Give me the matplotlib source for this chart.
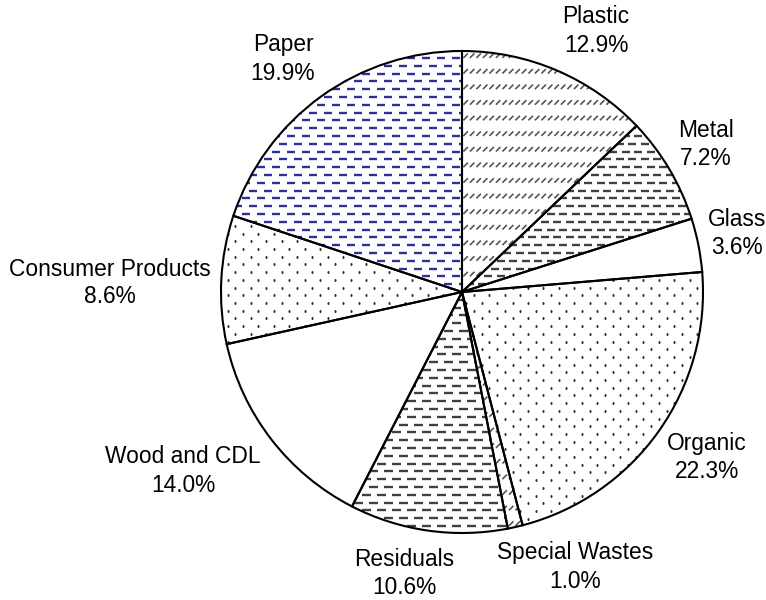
import numpy as np
import matplotlib
matplotlib.use("Agg")
import matplotlib.pyplot as plt
from matplotlib.collections import LineCollection
from matplotlib.patches import Wedge

# Waste composition (% of total)
categories = ["Plastic", "Metal", "Glass", "Organic", "Special Wastes",
              "Residuals", "Wood and CDL", "Consumer Products", "Paper"]
shares = [12.9, 7.2, 3.6, 22.3, 1.0, 10.6, 14.0, 8.6, 19.9]
pct_labels = ["12.9%", "7.2%", "3.6%", "22.3%", "1.0%",
              "10.6%", "14.0%", "8.6%", "19.9%"]

# fill style of each slice
fills = ["diag", "dash_metal", "none", "dots", "diag",
         "dash_resid", "none", "dots", "dash_paper"]

# label anchor (x centre, first baseline, second baseline) in pixels
label_px = [(596, 23, 52), (706, 137, 165), (737, 226, 254),
            (707, 450, 478), (575, 559, 588), (404, 566, 594),
            (183, 463, 492), (110, 276, 303), (283, 51, 80)]

W, H = 766, 600
CX, CY, RPX = 462, 292, 241   # pie centre and radius in pixels
PX = 1.0 / RPX                # one pixel in data units

fig = plt.figure(figsize=(W / 100, H / 100), dpi=100)
ax = fig.add_axes([0, 0, 1, 1])

wedges, _ = ax.pie(shares, startangle=90, counterclock=False, radius=1.0,
                   colors=["white"] * len(shares),
                   wedgeprops=dict(edgecolor="none", linewidth=0))

ax.set_xlim(-CX * PX, (W - CX) * PX)
ax.set_ylim((CY - H) * PX, CY * PX)
ax.set_aspect("equal")
ax.axis("off")


def dash_pattern(period, row_gap, stagger, dx_len, dy_len):
    segs = []
    nrows = int(2.2 * RPX / row_gap) + 2
    ncols = int(2.2 * RPX / period) + 3
    y0 = -1.1 * RPX
    x0 = -1.1 * RPX
    for j in range(nrows):
        y = y0 + j * row_gap
        off = stagger if j % 2 else 0.0
        for i in range(ncols):
            x = x0 + i * period + off
            segs.append([(x * PX, y * PX), ((x + dx_len) * PX, (y + dy_len) * PX)])
    return segs


def dot_pattern(period, row_gap, stagger):
    xs, ys = [], []
    nrows = int(2.2 * RPX / row_gap) + 2
    ncols = int(2.2 * RPX / period) + 3
    for j in range(nrows):
        y = -1.1 * RPX + j * row_gap
        off = stagger if j % 2 else 0.0
        for i in range(ncols):
            xs.append((-1.1 * RPX + i * period + off) * PX)
            ys.append(y * PX)
    return np.array(xs), np.array(ys)


for w, style in zip(wedges, fills):
    if style == "none":
        continue
    if style == "dots":
        xs, ys = dot_pattern(15.4, 7.7, 7.7)
        pts, = ax.plot(xs, ys, linestyle="none", marker="s", ms=1.7,
                       mec="none", mfc="#333333", zorder=2)
        pts.set_clip_path(w)
        continue
    if style == "diag":
        segs = dash_pattern(6.5, 15.6, 0.0, 4.5, 4.5)
        lc = LineCollection(segs, colors="#555555", linewidths=1.2, zorder=2)
    elif style == "dash_paper":
        segs = dash_pattern(15.0, 7.8, 7.5, 7.7, 0.0)
        lc = LineCollection(segs, colors="#30309a", linewidths=1.7, zorder=2)
    elif style == "dash_metal":
        segs = dash_pattern(12.5, 7.8, 6.2, 8.0, 0.0)
        lc = LineCollection(segs, colors="#404040", linewidths=1.7, zorder=2)
    else:
        segs = dash_pattern(15.0, 7.8, 7.5, 9.0, 0.0)
        lc = LineCollection(segs, colors="#404040", linewidths=1.7, zorder=2)
    ax.add_collection(lc)
    lc.set_clip_path(w)

# slice outlines drawn above the fill patterns
for w in wedges:
    ax.add_patch(Wedge(w.center, w.r, w.theta1, w.theta2, fill=False,
                       edgecolor="black", linewidth=1.5, zorder=4))

font = dict(family=["Liberation Sans", "DejaVu Sans"], fontsize=16.4,
            color="black", ha="center", va="baseline")
for name, pct, (lx, b1, b2) in zip(categories, pct_labels, label_px):
    x = (lx - CX) * PX
    ax.text(x, (CY - b1) * PX, name, **font)
    ax.text(x, (CY - b2) * PX, pct, **font)

fig.savefig("out.png", dpi=100, facecolor="white")
